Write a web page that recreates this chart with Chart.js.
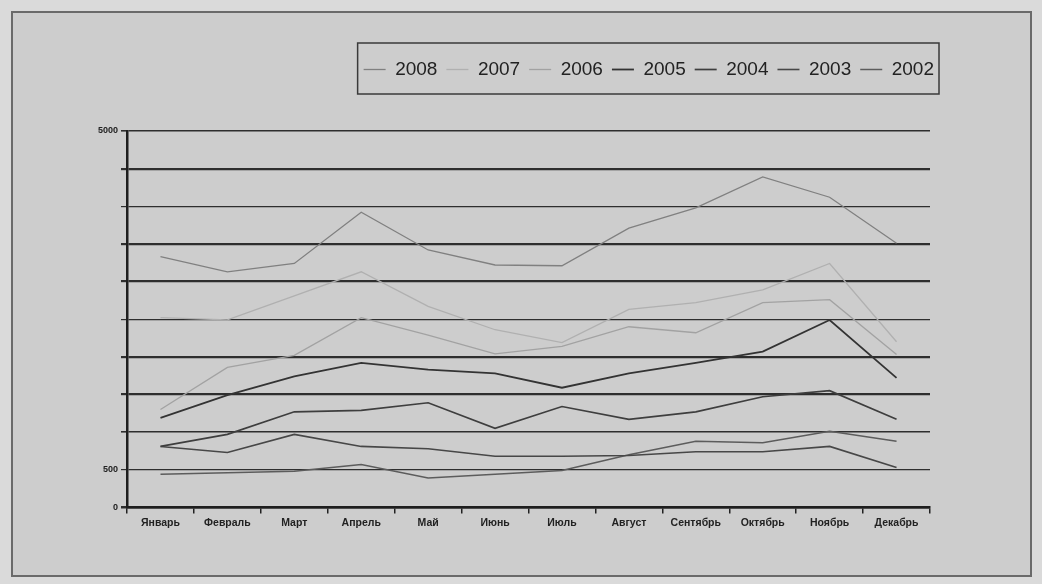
<!DOCTYPE html>
<html>
<head>
<meta charset="utf-8">
<script src="https://cdn.jsdelivr.net/npm/chart.js@4"></script>
<style>
  html, body { margin: 0; padding: 0; background: #dadada; }
  #wrap { position: relative; width: 1042px; height: 584px; }
  #frame { position: absolute; left: 11px; top: 11px; width: 1017px; height: 562px;
           border: 2px solid #6a6a6a; background: #cdcdcd; }
  #chart { position: absolute; left: 0; top: 0; }
</style>
</head>
<body>
<div id="wrap">
  <div id="frame"></div>
  <canvas id="chart" width="1042" height="584"></canvas>
</div>
<script>
// подписи и значения
const months = ['Январь', 'Февраль', 'Март', 'Апрель', 'Май', 'Июнь', 'Июль', 'Август', 'Сентябрь', 'Октябрь', 'Ноябрь', 'Декабрь'];
const years = ['2008', '2007', '2006', '2005', '2004', '2003', '2002'];

const v2008 = [3330, 3130, 3240, 3920, 3420, 3220, 3210, 3710, 3980, 4390, 4120, 3510];
const v2007 = [2520, 2490, 2810, 3130, 2670, 2360, 2190, 2630, 2720, 2890, 3240, 2200];
const v2006 = [1300, 1860, 2020, 2520, 2290, 2040, 2140, 2400, 2320, 2720, 2760, 2030];
const v2005 = [1190, 1490, 1740, 1920, 1830, 1780, 1590, 1780, 1920, 2070, 2490, 1720];
const v2004 = [810, 970, 1270, 1290, 1390, 1050, 1340, 1170, 1270, 1470, 1550, 1170];
const v2003 = [810, 730, 970, 810, 780, 680, 680, 690, 740, 740, 810, 530];
const v2002 = [440, 460, 480, 570, 390, 440, 490, 700, 880, 860, 1010, 880];

// на оси подписаны только эти значения
const yShownTicks = [0, 500, 5000];

const seriesValues = [v2008, v2007, v2006, v2005, v2004, v2003, v2002];
const lineColors = ['#808080', '#b0b0b0', '#a2a2a2', '#333333', '#3e3e3e', '#474747', '#5c5c5c'];
const lineWidths = [1.3, 1.3, 1.3, 1.8, 1.7, 1.6, 1.5];

// рамка вокруг легенды + лишнее место под ней
const legendBox = {
  id: 'legendBox',
  beforeUpdate(chart) {
    const lg = chart.legend;
    if (lg && !lg._extraGap) {
      const fit = lg.fit.bind(lg);
      lg.fit = function() { fit(); this.height += 42; };
      lg._extraGap = true;
    }
  },
  afterDraw(chart) {
    const hb = chart.legend.legendHitBoxes;
    if (!hb || !hb.length) return;
    const left = hb[0].left - 6;
    const right = hb[hb.length - 1].left + hb[hb.length - 1].width + 5;
    const top = hb[0].top - 17;
    const bottom = hb[0].top + hb[0].height + 15;
    const c = chart.ctx;
    c.save();
    c.strokeStyle = '#3a3a3a';
    c.lineWidth = 1.5;
    c.strokeRect(left, top, right - left, bottom - top);
    c.restore();
  }
};

const ctx = document.getElementById('chart').getContext('2d');
new Chart(ctx, {
  type: 'line',
  data: {
    labels: months,
    datasets: years.map((y, i) => ({
      label: y,
      data: seriesValues[i],
      borderColor: lineColors[i],
      backgroundColor: lineColors[i],
      borderWidth: lineWidths[i],
      pointRadius: 0,
      tension: 0
    }))
  },
  options: {
    responsive: false,
    animation: false,
    layout: { padding: { left: 95, right: 99, top: 51, bottom: 52 } },
    plugins: {
      legend: {
        position: 'top',
        align: 'end',
        labels: {
          usePointStyle: true,
          pointStyle: 'line',
          pointStyleWidth: 22,
          boxHeight: 2,
          padding: 9,
          color: '#222',
          font: { family: 'Liberation Sans, Arial', size: 19 }
        }
      },
      tooltip: { enabled: false }
    },
    scales: {
      x: {
        offset: true,
        grid: { offset: true, drawOnChartArea: false, drawTicks: true, tickLength: 6, color: '#222', lineWidth: 1.5 },
        border: { display: true, color: '#1e1e1e', width: 2.5 },
        ticks: { color: '#222', padding: 3, maxRotation: 0, autoSkip: false,
                 font: { family: 'Liberation Sans, Arial', size: 10.5, weight: 'bold' } }
      },
      y: {
        min: 0,
        max: 5000,
        grid: {
          color: '#2e2e2e',
          lineWidth: [2.5, 1.2, 1.6, 2.2, 2.2, 1.2, 2.2, 2.2, 1.2, 2.2, 1.6],
          tickLength: 6
        },
        border: { display: true, color: '#1e1e1e', width: 2.5 },
        ticks: {
          stepSize: 500,
          padding: 3,
          color: '#222',
          font: { family: 'Liberation Sans, Arial', size: 9, weight: 'bold' },
          callback: v => yShownTicks.includes(v) ? String(v) : ''
        }
      },
      // пустая правая ось — только отступ справа от графика
      yRight: {
        position: 'right',
        grid: { display: false },
        border: { display: false },
        ticks: { display: false },
        afterFit: s => { s.width = 13; }
      }
    }
  },
  plugins: [legendBox]
});
</script>
</body>
</html>
